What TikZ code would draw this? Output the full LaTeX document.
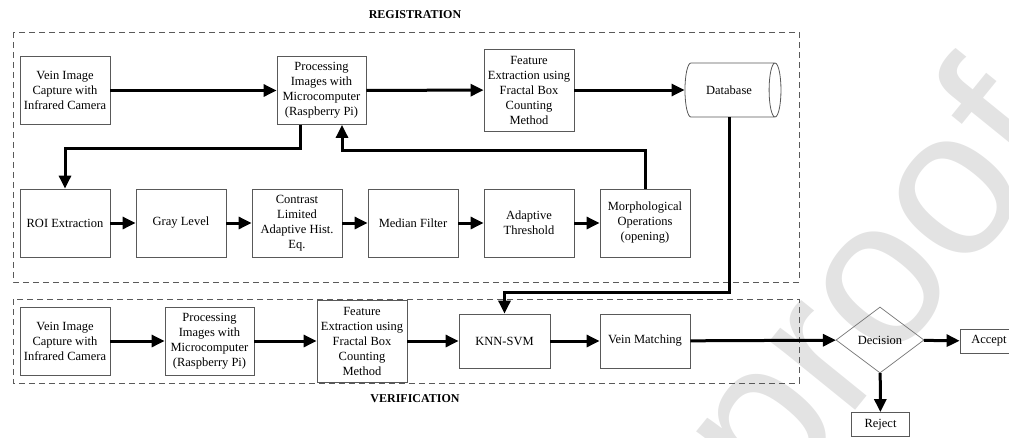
\documentclass[tikz,border=0pt]{standalone}
\usepackage{fontspec}
\setmainfont{Liberation Serif}
\newfontfamily\markfont{Liberation Sans}
\usetikzlibrary{arrows.meta,shapes.geometric}

\begin{document}
\begin{tikzpicture}[x=1pt, y=-1pt, font=\fontsize{12.5}{15}\selectfont]
    \tikzset{
        stage/.style={
            draw=black!65,
            line width=0.8pt,
            minimum width=90pt,
            minimum height=68pt,
            inner sep=1pt,
            align=center
        },
        tallstage/.style={stage, minimum height=82pt},
        flatstage/.style={stage, minimum height=54pt},
        datastore/.style={
            cylinder,
            shape border rotate=0,
            draw=black!65,
            line width=0.8pt,
            minimum width=54pt,
            minimum height=96pt,
            aspect=1.1,
            inner sep=1pt
        },
        decision/.style={
            diamond,
            draw=black!55,
            line width=0.7pt,
            minimum width=88pt,
            minimum height=66pt,
            inner sep=0pt
        },
        outcome/.style={
            draw=black!65,
            line width=0.8pt,
            minimum width=58pt,
            minimum height=24pt,
            inner sep=1pt
        },
        group/.style={draw=black!65, line width=0.9pt, dash pattern=on 6pt off 4pt},
        title/.style={font=\fontsize{12}{14}\selectfont\bfseries},
        arrow/.style={-{Triangle[length=13pt, width=12pt]}, line width=3pt},
        watermark/.style={text=black!11, font=\markfont\fontsize{208}{208}\selectfont}
    }

    \clip (0,0) rectangle (1009,437);
    \useasboundingbox (0,0) rectangle (1009,437);

    \node[watermark, rotate=51] (wm) at (881,293) {proof};

    % registration
    \draw[group] (13,32) rectangle (799,282);
    \node[title] (regtitle) at (415,15) {REGISTRATION};

    \node[stage] (capR) at (65,90.5) {Vein Image\\Capture with\\Infrared Camera};
    \node[stage, minimum width=89pt] (procR) at (321.5,90.5) {Processing\\Images with\\Microcomputer\\(Raspberry Pi)};
    \node[tallstage] (featR) at (529,90) {Feature\\Extraction using\\Fractal Box\\Counting\\Method};
    \node[datastore] (db) at (729,90) {Database};

    \node[stage] (roi) at (65,223) {ROI Extraction};
    \node[stage] (gray) at (181,223) {Gray Level};
    \node[stage] (clahe) at (297,223) {Contrast\\Limited\\Adaptive Hist.\\Eq.};
    \node[stage] (median) at (413,223) {Median Filter};
    \node[stage] (adapt) at (529,223) {Adaptive\\Threshold};
    \node[stage] (morph) at (645,223) {Morphological\\Operations\\(opening)};

    \draw[arrow] (capR) -- (procR);
    \draw[arrow] (procR) -- (featR);
    \draw[arrow] (featR) -- (db);
    \draw[arrow] ([xshift=-21.5pt]procR.south) -- ++(0,24) -| (roi);
    \draw[arrow] (roi) -- (gray);
    \draw[arrow] (gray) -- (clahe);
    \draw[arrow] (clahe) -- (median);
    \draw[arrow] (median) -- (adapt);
    \draw[arrow] (adapt) -- (morph);
    \draw[arrow] (morph.north) -- ++(0,-38) -| ([xshift=20.5pt]procR.south);

    % verification
    \draw[group] (13,299) rectangle (799,383);
    \node[title] (vertitle) at (415,399) {VERIFICATION};

    \node[stage] (capV) at (65,341) {Vein Image\\Capture with\\Infrared Camera};
    \node[stage, minimum width=89pt] (procV) at (209.5,341) {Processing\\Images with\\Microcomputer\\(Raspberry Pi)};
    \node[tallstage] (featV) at (362,341) {Feature\\Extraction using\\Fractal Box\\Counting\\Method};
    \node[flatstage, minimum width=91pt] (knn) at (504.5,341) {KNN-SVM};
    \node[flatstage] (match) at (645,341) {Vein Matching};
    \node[decision] (dec) at (880,340) {Decision};
    \node[outcome] (accept) at (989,341) {Accept};
    \node[outcome] (reject) at (880.5,424.5) {Reject};

    \draw[arrow] (db.south) -- ++(0,175) -| (knn);
    \draw[arrow] (capV) -- (procV);
    \draw[arrow] (procV) -- (featV);
    \draw[arrow] (featV) -- (knn);
    \draw[arrow] (knn) -- (match);
    \draw[arrow] (match) -- (dec);
    \draw[arrow] (dec) -- (accept);
    \draw[arrow] (dec) -- (reject);
\end{tikzpicture}
\end{document}
